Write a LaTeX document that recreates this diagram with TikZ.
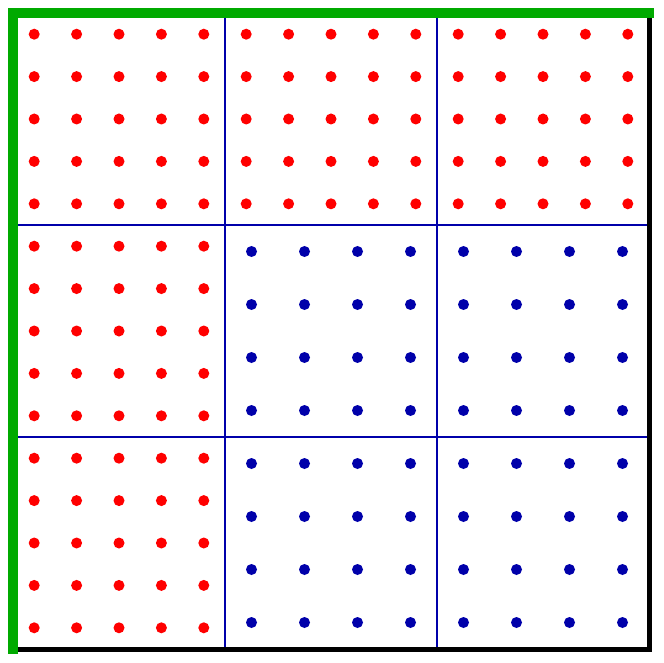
\documentclass[tikz,border=0pt]{standalone}
\definecolor{dotred}{RGB}{255,0,0}
\definecolor{dotblue}{RGB}{0,0,170}
\definecolor{edgegreen}{RGB}{0,170,0}
\tikzset{
  reddot/.style={circle,fill=dotred,draw=none,inner sep=0pt,minimum size=11pt},
  bluedot/.style={circle,fill=dotblue,draw=none,inner sep=0pt,minimum size=11pt},
  gridline/.style={draw=dotblue,line width=1.5pt},
}
\begin{document}
\begin{tikzpicture}[x=1pt,y=-1pt]
\useasboundingbox (0,0) rectangle (664,663);
% corners of the square
\coordinate (tl) at (13,13);
\coordinate (tr) at (649,13);
\coordinate (bl) at (13,649);
\coordinate (br) at (649,649);
% grid line endpoints
\coordinate (v1t) at (225,13);  \coordinate (v1b) at (225,649);
\coordinate (v2t) at (437,13);  \coordinate (v2b) at (437,649);
\coordinate (h1l) at (13,225);  \coordinate (h1r) at (649,225);
\coordinate (h2l) at (13,437);  \coordinate (h2r) at (649,437);
\draw[gridline] (v1t) -- (v1b);
\draw[gridline] (v2t) -- (v2b);
\draw[gridline] (h1l) -- (h1r);
\draw[gridline] (h2l) -- (h2r);
% black right and bottom sides
\draw[black,line width=5pt,line cap=rect] (bl) -- (br) -- (tr);
% red dots: top row and left column cells
\foreach \c/\r in {0/0,1/0,2/0,0/1,0/2}{
  \foreach \i in {0,...,4}{
    \foreach \j in {0,...,4}{
      \node[reddot] (r-\c-\r-\i-\j) at ({13+212*\c+212*(\i+0.5)/5},{13+212*\r+212*(\j+0.5)/5}) {};
    }
  }
}
% blue dots: remaining cells
\foreach \c/\r in {1/1,2/1,1/2,2/2}{
  \foreach \i in {0,...,3}{
    \foreach \j in {0,...,3}{
      \node[bluedot] (b-\c-\r-\i-\j) at ({13+212*\c+212*(\i+0.5)/4},{13+212*\r+212*(\j+0.5)/4}) {};
    }
  }
}
% green left and top sides
\draw[edgegreen,line width=10pt,line cap=rect] (bl) -- (tl) -- (tr);
\end{tikzpicture}
\end{document}
